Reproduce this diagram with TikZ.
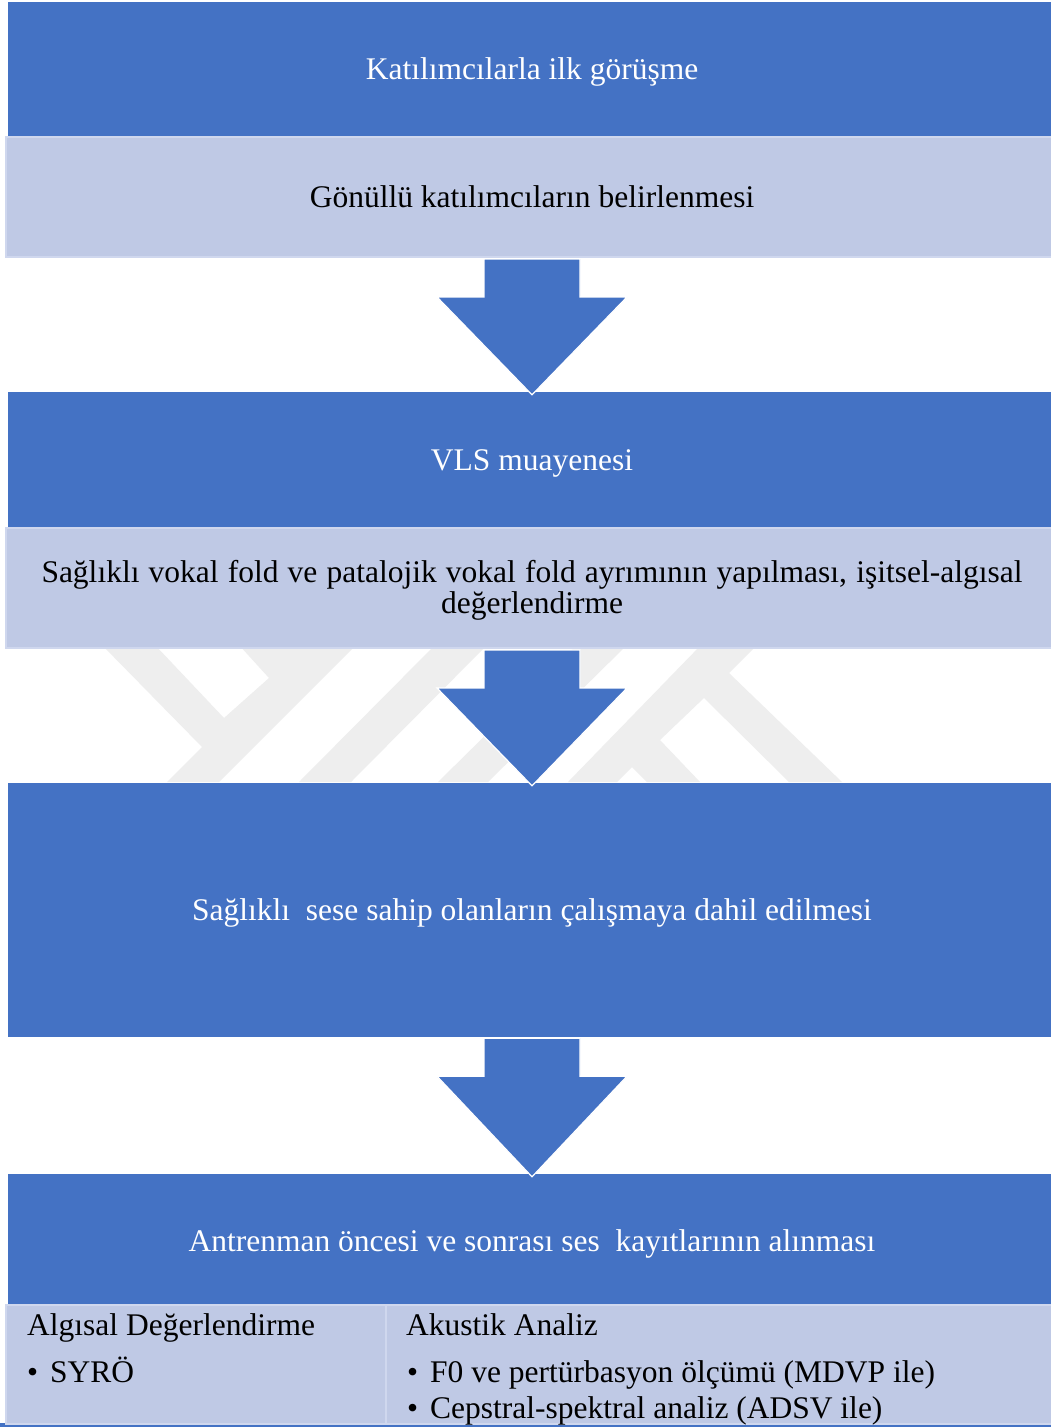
\documentclass[tikz,border=0pt]{standalone}
\usepackage{fontspec}
\setmainfont{Liberation Serif}
\usetikzlibrary{calc}
\definecolor{blu}{HTML}{4472C4}
\definecolor{lite}{HTML}{BFC9E5}
\definecolor{liteedge}{HTML}{CFD7EE}
\definecolor{wmark}{HTML}{EEEEEE}
\tikzset{
  txt/.style={font=\fontsize{31.5pt}{32.5pt}\selectfont},
  oneline/.style={text height=20pt, text depth=0pt},
  bluebox/.style={txt, oneline, rectangle, fill=blu, text=white, inner sep=0pt, minimum width=1048pt},
  litebox/.style={txt, rectangle, fill=lite, draw=liteedge, line width=2pt, text=black, inner sep=0pt, minimum width=1052pt},
  cellbox/.style={rectangle, fill=lite, draw=liteedge, line width=2pt, inner sep=0pt, minimum height=119pt},
  celltxt/.style={txt, anchor=base west, inner sep=0pt, text=black},
  linetxt/.style={txt, anchor=base, inner sep=0pt, text=black},
  flowarrow/.style={fill=blu, draw=white, line width=1.2pt, line join=miter},
  wm/.style={fill=wmark}
}
\newcommand{\drawflowarrow}[2]{%
  \filldraw[flowarrow] ($(#1.south)+(-48,1)$) -- ($(#1.south)+(48,1)$) -- ($(#1.south)+(48,39)$)
    -- ($(#1.south)+(95,39)$) -- ($(#2.north)+(0,3)$) -- ($(#1.south)+(-95,39)$)
    -- ($(#1.south)+(-48,39)$) -- cycle;}
\begin{document}
\begin{tikzpicture}[x=1pt,y=-1pt]
\useasboundingbox (0,0) rectangle (1051,1427);
\clip (0,0) rectangle (1051,1427);
\fill[white] (0,0) rectangle (1051,1427);
% faint watermark
\fill[wm] (102,645) -- (155,645) -- (224,718) -- (269,678) -- (239,645) -- (356,645)
  -- (219,782) -- (167,782) -- (202,747) -- cycle;
\fill[wm] (299,782) -- (351,782) -- (487,645) -- (435,645) -- cycle;
\fill[wm] (438,782) -- (488,782) -- (627,645) -- (577,645) -- cycle;
\fill[wm] (568,782) -- (701,645) -- (757,645) -- (729,673) -- (842,782) -- (789,782)
  -- (704,698) -- (660,740) -- (700,782) -- (647,782) -- (632,767) -- (617,782) -- cycle;
% boxes
\node[bluebox, minimum height=135pt] (b1) at (532,69.5) {Katılımcılarla ilk görüşme};
\node[litebox, oneline, minimum height=120pt] (l1) at (532,197) {Gönüllü katılımcıların belirlenmesi};
\node[bluebox, minimum height=136pt] (b2) at (532,460) {VLS muayenesi};
\node[litebox, minimum height=120pt] (l2) at (532,588) {};
\node[linetxt] (l2a) at (532,582)
  {\makebox[981pt][s]{Sağlıklı vokal fold ve patalojik vokal fold ayrımının yapılması, işitsel-algısal}};
\node[linetxt] (l2b) at (532,613) {değerlendirme};
\node[bluebox, minimum height=254pt] (b3) at (532,910) {Sağlıklı~~sese sahip olanların çalışmaya dahil edilmesi};
\node[bluebox, minimum height=131pt, text height=24pt] (b4) at (532,1239.5) {Antrenman öncesi ve sonrası ses~~kayıtlarının alınması};
\fill[blu] (0,1423) rectangle (1051,1427);
\node[cellbox, minimum width=380pt] (c1) at (196,1364.5) {};
\node[cellbox, minimum width=672pt] (c2) at (722,1364.5) {};
\begin{scope}
\clip (0,1305) rectangle (1051,1424);
\node[celltxt] (talg) at (27,1335) {Algısal Değerlendirme};
\node[celltxt] (tsyro) at (27,1382) {\makebox[23pt][l]{•}SYRÖ};
\node[celltxt] (tak) at (406,1335) {Akustik Analiz};
\node[celltxt] (tf0) at (407,1382) {\makebox[23pt][l]{•}F0 ve pertürbasyon ölçümü (MDVP ile)};
\node[celltxt] (tcep) at (407,1418) {\makebox[23pt][l]{•}Cepstral-spektral analiz (ADSV ile)};
\end{scope}
% arrows
\drawflowarrow{l1}{b2}
\drawflowarrow{l2}{b3}
\drawflowarrow{b3}{b4}
\end{tikzpicture}
\end{document}
